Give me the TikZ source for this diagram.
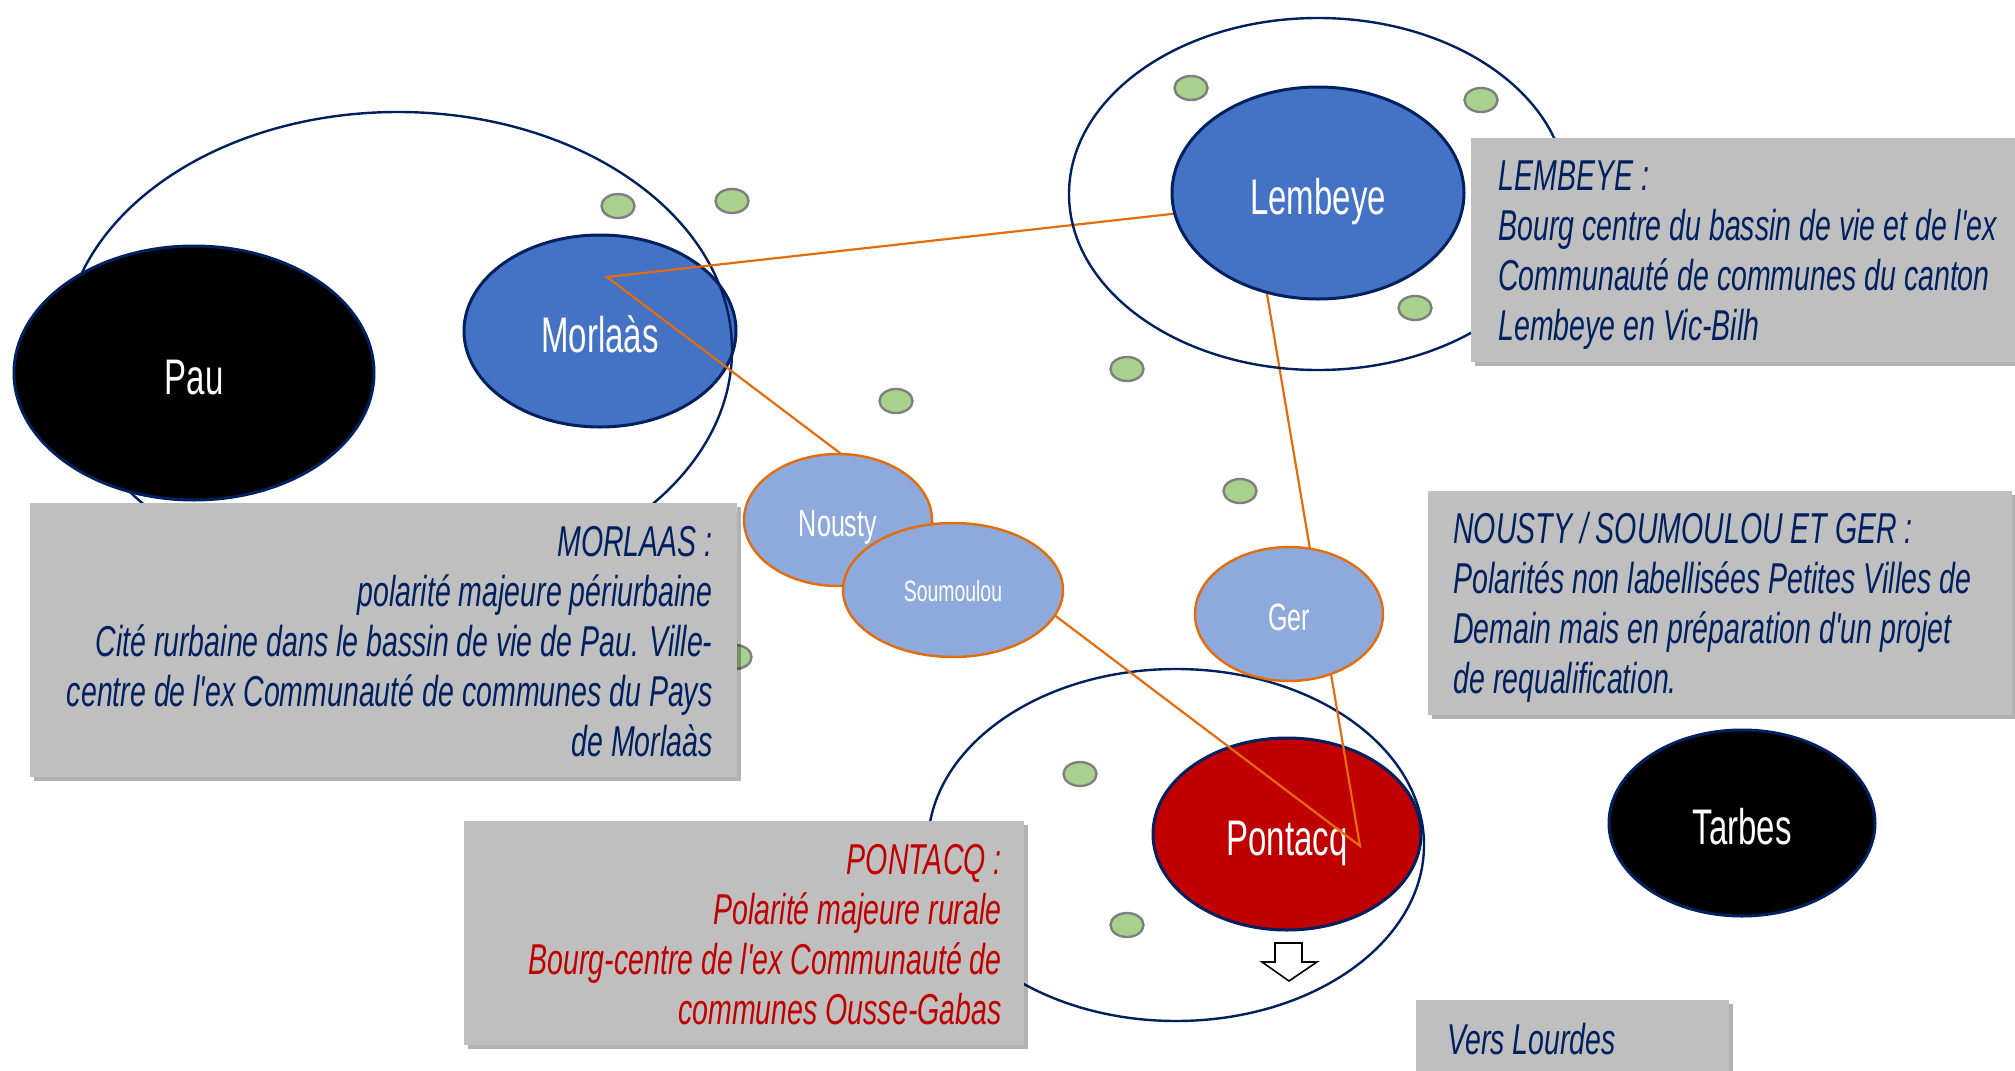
\documentclass[tikz,border=0pt]{standalone}
\usepackage{fontspec}
\newfontfamily\agency[FakeStretch=0.66]{Liberation Sans}
\usetikzlibrary{shapes.geometric,shadows}
\definecolor{navy}{HTML}{002060}
\definecolor{cityblue}{HTML}{4472C4}
\definecolor{lightblue}{HTML}{8EA9DB}
\definecolor{orangeln}{HTML}{E46C0A}
\definecolor{dotgreen}{HTML}{A9D18E}
\definecolor{dotgray}{HTML}{7F7F7F}
\definecolor{darkred}{HTML}{C00000}
\definecolor{boxgray}{HTML}{BFBFBF}
\begin{document}
\begin{tikzpicture}[x=0.5pt,y=-0.5pt,
  city/.style={ellipse, draw=navy, line width=1.5pt, inner sep=0pt, text=white, text height=21pt, text depth=0pt, font=\agency\fontsize{25}{30}\selectfont},
  ring/.style={ellipse, draw=navy, line width=1.2pt, inner sep=0pt},
  minor/.style={ellipse, draw=orangeln, fill=lightblue, line width=1.2pt, inner sep=0pt, text=white, text height=16pt, text depth=0pt, font=\agency\fontsize{19}{22}\selectfont},
  village/.style={ellipse, draw=dotgray, fill=dotgreen, line width=1.2pt, inner sep=0pt, minimum width=16.5pt, minimum height=12pt},
  infobox/.style={rectangle, fill=boxgray, inner sep=0pt, anchor=north west, drop shadow={shadow xshift=2pt, shadow yshift=-2pt, opacity=0.3, fill=black}},
  infotext/.style={inner sep=0pt, font=\agency\itshape\fontsize{21.6}{25}\selectfont},
  link/.style={draw=orangeln, line width=1.1pt, line join=miter}
]
\useasboundingbox[fill=white] (0,0) rectangle (2015,1071);

% Morlaas area
\node[city, fill=cityblue, minimum width=136pt, minimum height=96pt] (morlaas) at (600,331) {Morlaàs};
\node[ring, minimum width=334pt, minimum height=238pt] (morlaasring) at (398,350) {};
\node[city, fill=black, minimum width=180pt, minimum height=127pt] (pau) at (194,373) {Pau};

% villages
\node[village] (v1) at (618,206) {};
\node[village] (v2) at (732,201) {};
\node[village] (v3) at (896,401) {};
\node[village] (v4) at (1191,88) {};
\node[village] (v5) at (1481,100) {};
\node[village] (v6) at (1415,308) {};
\node[village] (v7) at (1127,369) {};
\node[village] (v8) at (1240,491) {};
\node[village] (v9) at (735,657) {};
\node[village] (v10) at (1080,774) {};
\node[village] (v11) at (1127,925) {};

% Pontacq area
\node[city, fill=darkred, minimum width=134pt, minimum height=96pt] (pontacq) at (1287,834) {Pontacq};
\node[ring, minimum width=248pt, minimum height=176pt] (pontacqring) at (1176,845) {};

% links
\coordinate (mP) at (607,277);
\coordinate (lP) at (1252,205);
\coordinate (pP) at (1360,846);
\draw[link] (mP) -- (lP) -- (pP) -- cycle;

% Lembeye
\node[ring, minimum width=249pt, minimum height=176pt] (lembeyering) at (1318,194) {};
\node[city, fill=cityblue, minimum width=146pt, minimum height=106pt] (lembeye) at (1318,193) {Lembeye};

% minor poles
\node[minor, minimum width=94pt, minimum height=66pt] (nousty) at (838,520) {Nousty};
\node[minor, minimum width=110pt, minimum height=67pt, text height=11pt, font=\agency\fontsize{14.7}{17}\selectfont] (soumoulou) at (953,590) {Soumoulou};
\node[minor, minimum width=94pt, minimum height=67pt] (ger) at (1289,614) {Ger};

\node[city, fill=black, minimum width=133pt, minimum height=93pt] (tarbes) at (1742,823) {Tarbes};

% info boxes
\node[infobox, minimum width=353.5pt, minimum height=137pt] (mbox) at (30,503) {};
\node[infotext, text=navy, align=right, anchor=north east] (mtext) at (713,526) {MORLAAS :\\polarité majeure périurbaine\\Cité rurbaine dans le bassin de vie de Pau. Ville-\\centre de l'ex Communauté de communes du Pays\\de Morlaàs};

\node[infobox, minimum width=285pt, minimum height=112pt] (lbox) at (1471,138) {};
\node[infotext, text=navy, align=left, anchor=north west] (ltext) at (1498,160) {LEMBEYE :\\Bourg centre du bassin de vie et de l'ex\\Communauté de communes du canton\\Lembeye en Vic-Bilh};

\node[infobox, minimum width=292pt, minimum height=112pt] (nbox) at (1428,491) {};
\node[infotext, text=navy, align=left, anchor=north west] (ntext) at (1453,512) {NOUSTY / SOUMOULOU ET GER :\\Polarités non labellisées Petites Villes de\\Demain mais en préparation d'un projet\\de requalification.};

\node[infobox, minimum width=280pt, minimum height=112pt] (pbox) at (464,821) {};
\node[infotext, text=darkred, align=right, anchor=north east] (ptext) at (1002,844) {PONTACQ :\\Polarité majeure rurale\\Bourg-centre de l'ex Communauté de\\communes Ousse-Gabas};

\node[infobox, minimum width=156.5pt, minimum height=50pt] (vbox) at (1416,1000) {};
\node[infotext, text=navy, anchor=north west] (vtext) at (1447,1023) {Vers Lourdes};

% arrow towards Lourdes
\draw[black, line width=0.8pt, fill=white] (1275,943) -- (1302,943) -- (1302,962) -- (1317,962) -- (1289,981) -- (1262,962) -- (1275,962) -- cycle;
\end{tikzpicture}
\end{document}
